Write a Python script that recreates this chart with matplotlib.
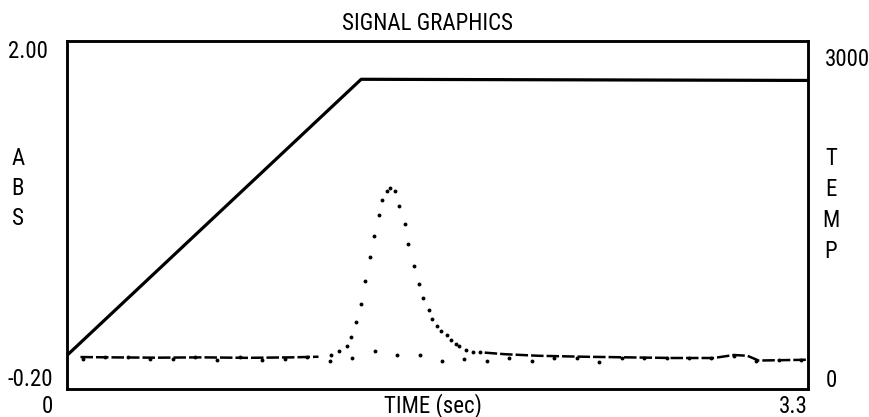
import matplotlib
matplotlib.use("Agg")
import matplotlib.pyplot as plt

plt.rcParams['font.family'] = ['Roboto Condensed', 'DejaVu Sans']

# furnace temperature program (deg C) vs time (s)
temp_time = [0.0, 1.31, 3.3]
temp_value = [290, 2670, 2660]

# absorbance baseline before and after the atomisation peak
base_left_time = [0.06, 0.2, 0.4, 0.6, 0.8, 1.0, 1.12]
base_left_abs = [0.002, 0.0, -0.002, 0.0, -0.003, 0.0, 0.004]
base_right_time = [1.86, 1.95, 2.1, 2.3, 2.5, 2.7, 2.88, 2.97, 3.03, 3.08, 3.3]
base_right_abs = [0.03, 0.02, 0.01, 0.004, 0.0, -0.004, -0.004, 0.015, 0.01, -0.02, -0.015]

# sampled absorbance through the peak
peak_time = [1.175, 1.213, 1.246, 1.264, 1.287, 1.310, 1.326, 1.348, 1.366, 1.388,
             1.402, 1.424, 1.439, 1.462, 1.480, 1.506, 1.520, 1.546, 1.569, 1.587,
             1.611, 1.626, 1.649, 1.667, 1.691, 1.709, 1.733, 1.745, 1.777, 1.810,
             1.840]
peak_abs = [0.017, 0.038, 0.074, 0.131, 0.225, 0.335, 0.485, 0.636, 0.767, 0.900,
            0.995, 1.054, 1.069, 1.050, 0.955, 0.843, 0.715, 0.580, 0.466, 0.376,
            0.298, 0.241, 0.200, 0.165, 0.143, 0.110, 0.085, 0.072, 0.047, 0.032,
            0.032]

# background absorbance, one reading every 0.1 s
bg_time = [0.07, 0.17, 0.27, 0.37, 0.47, 0.57, 0.67, 0.77, 0.87, 0.97, 1.07,
           1.17, 1.27, 1.37, 1.47, 1.57, 1.67, 1.77, 1.87, 1.97, 2.07, 2.17,
           2.27, 2.37, 2.47, 2.57, 2.67, 2.77, 2.87, 2.97, 3.07, 3.17, 3.27]
bg_abs = [-0.012, 0.0, 0.0, -0.012, -0.012, 0.0, -0.015, 0.0, -0.015, -0.012, 0.0,
          -0.021, -0.006, 0.038, 0.015, 0.015, -0.023, -0.008, -0.025, -0.004, -0.025, -0.004,
          -0.004, -0.027, -0.006, -0.006, -0.006, -0.006, -0.006, 0.01, -0.02, -0.018, -0.018]

W, H = 870, 417
fig = plt.figure(figsize=(W / 100, H / 100), dpi=100)
ax = fig.add_axes([67 / W, 1 - 389 / H, (808 - 67) / W, (389 - 41) / H])
ax.set_xlim(0, 3.3)
ax.set_ylim(-0.2, 2.0)
ax2 = ax.twinx()
ax2.set_ylim(0, 3000)

for a in (ax, ax2):
    a.set_xticks([])
    a.set_yticks([])
    for s in a.spines.values():
        s.set_linewidth(1.8)

ax2.plot(temp_time, temp_value, color='black', lw=2.3, solid_capstyle='round')

ax.plot(base_left_time, base_left_abs, color='black', lw=1.8, dashes=(5, 1.2))
ax.plot(base_right_time, base_right_abs, color='black', lw=1.8, dashes=(5, 1.2))
ax.plot(peak_time, peak_abs, 'o', color='black', ms=2.8, mew=0)
ax.plot(bg_time, bg_abs, 'o', color='black', ms=2.8, mew=0)


def label(x, y, s, ha='center'):
    # x, y in pixels from the top-left, y is the text baseline
    fig.text(x / W, 1 - y / H, s, ha=ha, va='baseline', fontsize=16.5, color='black')


label(427.5, 30.5, 'SIGNAL GRAPHICS')
label(433, 412, 'TIME (sec)')
label(48, 58, '2.00', ha='right')
label(53, 386, '-0.20', ha='right')
label(53, 413, '0', ha='right')
label(808, 413, '3.3', ha='right')
label(825, 65.5, '3000', ha='left')
label(826, 387, '0', ha='left')
for i, ch in enumerate('ABS'):
    label(18, 165 + 30 * i, ch)
for i, ch in enumerate('TEMP'):
    label(831, 165 + 31 * i, ch)

fig.savefig('out.png', dpi=100)
